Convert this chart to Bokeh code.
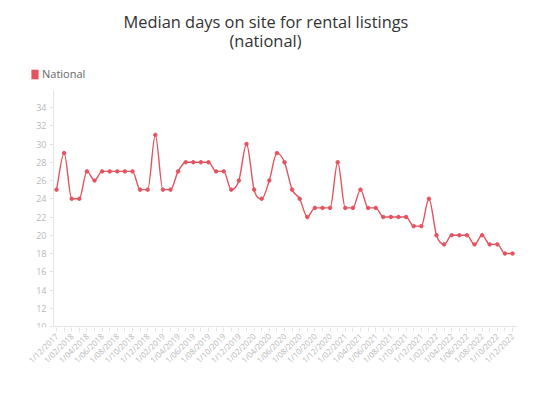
import math
from bokeh.plotting import figure
from bokeh.models import FixedTicker, Legend, LegendItem, Range1d, ColumnDataSource, Label
from bokeh.embed import file_html
from bokeh.resources import INLINE

months = (["1/12/2017"]
          + [f"1/{m:02d}/2018" for m in range(1, 13)]
          + [f"1/{m:02d}/2019" for m in range(1, 13)]
          + [f"1/{m:02d}/2020" for m in range(1, 13)]
          + [f"1/{m:02d}/2021" for m in range(1, 13)]
          + [f"1/{m:02d}/2022" for m in range(1, 13)])

days = [25, 29, 24, 24, 27, 26, 27, 27, 27, 27,
        27, 25, 25, 31, 25, 25, 27, 28, 28, 28,
        28, 27, 27, 25, 26, 30, 25, 24, 26, 29,
        28, 25, 24, 22, 23, 23, 23, 28, 23, 23,
        25, 23, 23, 22, 22, 22, 22, 21, 21, 24,
        20, 19, 20, 20, 20, 19, 20, 19, 19, 18,
        18]

y_ticks = [10, 12, 14, 16, 18, 20, 22, 24, 26, 28, 30, 32, 34]
series_name = "National"
title_lines = ["Median days on site for rental listings", "(national)"]

RED = "#e5535f"
GREY = "#b8b8b8"
AXIS = "#e4e4e4"
FONT = "Open Sans"

n = len(days)
xs = list(range(n))

# view window (axis box) and the wider frame that also holds title + legend
X_LO, X_HI = -0.395, 60.658       # where the axes start / end
Y_LO, Y_HI = 10, 35.86            # y-axis extent
PX_X, PX_Y = 7.6, 9.125           # pixels per unit
FRAME_W, FRAME_H = 492, 319
x_start = X_LO - 28 / PX_X
y_start = Y_LO - 1 / PX_Y

# monotone cubic (Fritsch-Carlson) tangents for a smooth drawn line
d = [days[k + 1] - days[k] for k in range(n - 1)]
m = [0.0] * n
m[0] = d[0]
m[-1] = d[-1]
for k in range(1, n - 1):
    m[k] = 0.0 if d[k - 1] * d[k] <= 0 else (d[k - 1] + d[k]) / 2
for k in range(n - 1):
    if d[k] == 0:
        m[k] = 0.0
        m[k + 1] = 0.0
    else:
        a = m[k] / d[k]
        b = m[k + 1] / d[k]
        s = a * a + b * b
        if s > 9:
            t = 3 / math.sqrt(s)
            m[k] = t * a * d[k]
            m[k + 1] = t * b * d[k]

bez = ColumnDataSource(dict(
    x0=xs[:-1], y0=days[:-1], x1=xs[1:], y1=days[1:],
    cx0=[x + 1 / 3 for x in xs[:-1]], cy0=[days[k] + m[k] / 3 for k in range(n - 1)],
    cx1=[x - 1 / 3 for x in xs[1:]], cy1=[days[k + 1] - m[k + 1] / 3 for k in range(n - 1)],
))

p = figure(width=518, height=379, output_backend="svg", toolbar_location=None,
           x_range=Range1d(x_start, x_start + FRAME_W / PX_X),
           y_range=Range1d(y_start, y_start + FRAME_H / PX_Y),
           min_border_left=25, min_border_right=1, min_border_top=8, min_border_bottom=52)
p.outline_line_color = None
p.grid.visible = False
p.background_fill_color = "white"
p.border_fill_color = "white"

# axis lines
p.segment(x0=[X_LO, X_LO], y0=[Y_LO, Y_LO], x1=[X_LO, X_HI], y1=[Y_HI, Y_LO],
          line_color=AXIS, line_width=1)

p.bezier(x0="x0", y0="y0", x1="x1", y1="y1", cx0="cx0", cy0="cy0", cx1="cx1", cy1="cy1",
         source=bez, line_color=RED, line_width=1.4)
p.scatter(xs, days, size=3.5, color=RED)

# legend swatch only (not drawn in the plot: NaN geometry)
nan = float("nan")
sq = p.quad(left=[nan], right=[nan], top=[nan], bottom=[nan], fill_color=RED, line_color=None)
legend = Legend(items=[LegendItem(label=series_name, renderers=[sq])], location=(5, 246),
                background_fill_alpha=0, border_line_color=None, padding=0, margin=0,
                glyph_width=9, glyph_height=12, label_height=12, label_standoff=3,
                label_text_font_size="11px", label_text_color="#666666", label_text_font=FONT)
p.add_layout(legend)

for txt, xx, yy in zip(title_lines, [240.5, 240], [306, 287]):
    p.add_layout(Label(x=xx, y=yy, x_units="screen", y_units="screen", text=txt,
                       text_align="center", text_baseline="alphabetic",
                       text_font=FONT, text_font_size="16.4px", text_color="#333333"))

# axes
p.xaxis.ticker = FixedTicker(ticks=list(range(0, n, 2)), minor_ticks=list(range(1, n, 2)))
p.xaxis.major_label_overrides = {i: months[i] for i in range(0, n, 2)}
p.xaxis.major_label_orientation = math.pi / 4
p.yaxis.ticker = FixedTicker(ticks=y_ticks)
p.yaxis.fixed_location = X_LO
for ax in (p.xaxis[0], p.yaxis[0]):
    ax.axis_line_color = None
    ax.major_tick_line_color = AXIS
    ax.minor_tick_line_color = None
    ax.major_tick_in = 0
    ax.major_tick_out = 4
    ax.major_label_text_color = GREY
    ax.major_label_text_font = FONT
p.xaxis.minor_tick_line_color = AXIS
p.xaxis.minor_tick_in = 0
p.xaxis.minor_tick_out = 4
p.xaxis.major_label_text_font_size = "8px"
p.xaxis.major_label_standoff = 3
p.yaxis.major_label_text_font_size = "9px"
p.yaxis.major_label_standoff = 3

open("out.html", "w").write(file_html(p, INLINE))
